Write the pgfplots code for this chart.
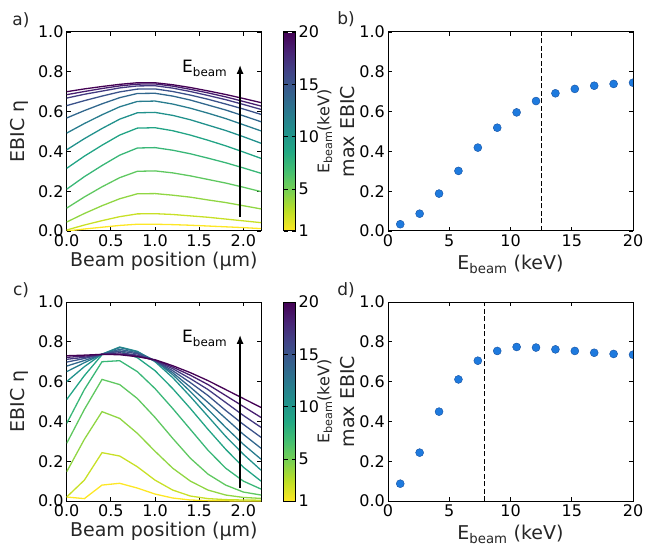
\documentclass[border=0pt]{standalone}
\usepackage{fontspec}
\setmainfont{DejaVu Sans}
\usepackage{pgfplots}
\pgfplotsset{compat=1.18}
\usetikzlibrary{arrows.meta}
\definecolor{dotblue}{RGB}{30,122,222}
\definecolor{dotedge}{RGB}{20,80,160}
\pgfplotsset{
  colormap={rviridis}{rgb255=(253,231,37) rgb255=(189,223,38) rgb255=(122,209,81) rgb255=(68,191,112) rgb255=(34,168,132) rgb255=(33,145,140) rgb255=(42,120,142) rgb255=(53,95,141) rgb255=(65,68,135) rgb255=(72,36,117) rgb255=(68,1,84)},
  /pgf/number format/assume math mode=true,
  panel/.style={
    scale only axis,
    anchor=south west,
    axis line style={line width=1pt},
    tick align=inside,
    major tick length=4pt,
    tick style={black, line width=0.8pt},
    ticklabel style={font=\fontsize{16}{19}\selectfont},
    yticklabel style={inner sep=3pt, /pgf/number format/fixed, /pgf/number format/fixed zerofill, /pgf/number format/precision=1},
    label style={font=\fontsize{19}{23}\selectfont, text=black!85},
    ymin=0, ymax=1,
    ytick={0,0.2,0.4,0.6,0.8,1.0},
    clip marker paths=true,
  },
  profile/.style={
    panel,
    width=194.3pt, height=199pt,
    xmin=0, xmax=2.2, xtick={0,0.5,1,1.5,2},
    xticklabel style={/pgf/number format/fixed, /pgf/number format/fixed zerofill, /pgf/number format/precision=1},
    xlabel={Beam position (µm)}, ylabel={EBIC η},
    xlabel style={at={(axis description cs:0.5,-0.176)}, anchor=base},
    ylabel style={at={(axis description cs:-0.215,0.5)}, anchor=base},
    colormap name=rviridis,
    colorbar, point meta min=1, point meta max=20,
    colorbar style={
      scale only axis,
      at={(parent axis.north east)}, anchor=north west, xshift=14pt,
      width=12pt,
      ytick={1,5,10,15,20},
      axis line style={line width=1pt},
      tick align=inside, major tick length=4pt,
      tick style={black, line width=0.8pt},
      yticklabel style={font=\fontsize{16}{19}\selectfont, inner sep=3pt},
      ylabel={E\textsubscript{beam}(keV)},
      ylabel style={font=\fontsize{16}{19}\selectfont, text=black!85, at={(axis description cs:3.83,0.5)}, anchor=base},
    },
    every axis plot/.append style={line width=1.3pt},
  },
  maxplot/.style={
    panel,
    width=245pt, height=199pt,
    xmin=0, xmax=20, xtick={0,5,10,15,20},
    xlabel={E\textsubscript{beam} (keV)}, ylabel={max EBIC},
    xlabel style={at={(axis description cs:0.5,-0.191)}, anchor=base},
    ylabel style={at={(axis description cs:-0.135,0.5)}, anchor=base},
  },
  dots/.style={only marks, mark=*, mark size=4pt, mark options={fill=dotblue, draw=dotedge, line width=0.4pt}},
}
\begin{document}
\begin{tikzpicture}
\useasboundingbox (0,0) rectangle (652pt,557pt);

% ---------------- a) ----------------
\begin{axis}[profile, at={(66.7pt,326pt)}]
\addplot[color of colormap=0] coordinates {(0,0) (0.2,0.010) (0.4,0.019) (0.6,0.028) (0.8,0.034) (1.0,0.034) (1.2,0.032) (1.4,0.029) (1.6,0.025) (1.8,0.021) (2.0,0.017) (2.2,0.012)};
\addplot[color of colormap=83] coordinates {(0,0.005) (0.2,0.030) (0.4,0.052) (0.6,0.072) (0.8,0.086) (1.0,0.087) (1.2,0.083) (1.4,0.076) (1.6,0.069) (1.8,0.060) (2.0,0.051) (2.2,0.042)};
\addplot[color of colormap=167] coordinates {(0,0.045) (0.2,0.088) (0.4,0.127) (0.6,0.162) (0.8,0.187) (1.0,0.188) (1.2,0.180) (1.4,0.170) (1.6,0.156) (1.8,0.143) (2.0,0.127) (2.2,0.111)};
\addplot[color of colormap=250] coordinates {(0,0.115) (0.2,0.171) (0.4,0.222) (0.6,0.268) (0.8,0.300) (1.0,0.302) (1.2,0.292) (1.4,0.277) (1.6,0.259) (1.8,0.241) (2.0,0.220) (2.2,0.198)};
\addplot[color of colormap=333] coordinates {(0,0.210) (0.2,0.273) (0.4,0.329) (0.6,0.381) (0.8,0.417) (1.0,0.419) (1.2,0.406) (1.4,0.388) (1.6,0.366) (1.8,0.343) (2.0,0.317) (2.2,0.290)};
\addplot[color of colormap=417] coordinates {(0,0.315) (0.2,0.376) (0.4,0.431) (0.6,0.482) (0.8,0.517) (1.0,0.519) (1.2,0.504) (1.4,0.482) (1.6,0.456) (1.8,0.428) (2.0,0.397) (2.2,0.365)};
\addplot[color of colormap=500] coordinates {(0,0.408) (0.2,0.464) (0.4,0.515) (0.6,0.562) (0.8,0.594) (1.0,0.596) (1.2,0.581) (1.4,0.559) (1.6,0.532) (1.8,0.505) (2.0,0.474) (2.2,0.441)};
\addplot[color of colormap=583] coordinates {(0,0.492) (0.2,0.540) (0.4,0.584) (0.6,0.624) (0.8,0.651) (1.0,0.653) (1.2,0.638) (1.4,0.617) (1.6,0.592) (1.8,0.565) (2.0,0.534) (2.2,0.503)};
\addplot[color of colormap=667] coordinates {(0,0.568) (0.2,0.605) (0.4,0.639) (0.6,0.670) (0.8,0.691) (1.0,0.692) (1.2,0.678) (1.4,0.658) (1.6,0.633) (1.8,0.608) (2.0,0.579) (2.2,0.549)};
\addplot[color of colormap=750] coordinates {(0,0.630) (0.2,0.655) (0.4,0.678) (0.6,0.699) (0.8,0.713) (1.0,0.714) (1.2,0.701) (1.4,0.683) (1.6,0.662) (1.8,0.638) (2.0,0.613) (2.2,0.586)};
\addplot[color of colormap=833] coordinates {(0,0.668) (0.2,0.687) (0.4,0.703) (0.6,0.719) (0.8,0.729) (1.0,0.730) (1.2,0.718) (1.4,0.701) (1.6,0.681) (1.8,0.660) (2.0,0.636) (2.2,0.611)};
\addplot[color of colormap=917] coordinates {(0,0.685) (0.2,0.701) (0.4,0.716) (0.6,0.729) (0.8,0.738) (1.0,0.739) (1.2,0.728) (1.4,0.712) (1.6,0.694) (1.8,0.674) (2.0,0.651) (2.2,0.628)};
\addplot[color of colormap=1000] coordinates {(0,0.700) (0.2,0.714) (0.4,0.726) (0.6,0.737) (0.8,0.745) (1.0,0.745) (1.2,0.735) (1.4,0.721) (1.6,0.704) (1.8,0.686) (2.0,0.666) (2.2,0.645)};
\draw[line width=1.6pt, -{Latex[length=9pt,width=7pt]}] (axis cs:1.963,0.07) -- (axis cs:1.963,0.835);
\node[anchor=base west, inner sep=0pt, font=\fontsize{17}{20}\selectfont] at (axis cs:1.306,0.794) {E\textsubscript{beam}};
\end{axis}

% ---------------- b) ----------------
\begin{axis}[maxplot, at={(388pt,326pt)}]
\addplot[dots] coordinates {(1,0.034) (2.583,0.087) (4.167,0.188) (5.75,0.302) (7.333,0.419) (8.917,0.519) (10.5,0.596) (12.083,0.653) (13.667,0.692) (15.25,0.714) (16.833,0.730) (18.417,0.739) (20,0.745)};
\addplot[black, line width=1pt, dash pattern=on 5pt off 2.5pt] coordinates {(12.5,0) (12.5,1)};
\end{axis}

% ---------------- c) ----------------
\begin{axis}[profile, at={(66.7pt,56pt)}]
\addplot[color of colormap=0] coordinates {(0,0.020) (0.2,0.012) (0.4,0.080) (0.6,0.089) (0.8,0.065) (1.0,0.035) (1.2,0.015) (1.4,0.005) (1.6,0.002) (1.8,0.001) (2.0,0) (2.2,0)};
\addplot[color of colormap=83] coordinates {(0,0.020) (0.2,0.105) (0.4,0.243) (0.6,0.226) (0.8,0.172) (1.0,0.105) (1.2,0.055) (1.4,0.025) (1.6,0.012) (1.8,0.007) (2.0,0.005) (2.2,0.004)};
\addplot[color of colormap=167] coordinates {(0,0.147) (0.2,0.310) (0.4,0.449) (0.6,0.415) (0.8,0.340) (1.0,0.250) (1.2,0.165) (1.4,0.100) (1.6,0.055) (1.8,0.030) (2.0,0.018) (2.2,0.013)};
\addplot[color of colormap=250] coordinates {(0,0.290) (0.2,0.460) (0.4,0.611) (0.6,0.585) (0.8,0.515) (1.0,0.420) (1.2,0.315) (1.4,0.215) (1.6,0.135) (1.8,0.080) (2.0,0.045) (2.2,0.030)};
\addplot[color of colormap=333] coordinates {(0,0.390) (0.2,0.560) (0.4,0.700) (0.6,0.705) (0.8,0.650) (1.0,0.565) (1.2,0.465) (1.4,0.360) (1.6,0.255) (1.8,0.165) (2.0,0.100) (2.2,0.060)};
\addplot[color of colormap=417] coordinates {(0,0.510) (0.2,0.630) (0.4,0.735) (0.6,0.754) (0.8,0.720) (1.0,0.655) (1.2,0.565) (1.4,0.465) (1.6,0.360) (1.8,0.260) (2.0,0.170) (2.2,0.100)};
\addplot[color of colormap=500] coordinates {(0,0.600) (0.2,0.675) (0.4,0.738) (0.6,0.774) (0.8,0.752) (1.0,0.700) (1.2,0.620) (1.4,0.525) (1.6,0.425) (1.8,0.325) (2.0,0.235) (2.2,0.155)};
\addplot[color of colormap=583] coordinates {(0,0.650) (0.2,0.695) (0.4,0.737) (0.6,0.771) (0.8,0.750) (1.0,0.705) (1.2,0.635) (1.4,0.550) (1.6,0.460) (1.8,0.370) (2.0,0.285) (2.2,0.210)};
\addplot[color of colormap=667] coordinates {(0,0.678) (0.2,0.706) (0.4,0.737) (0.6,0.762) (0.8,0.745) (1.0,0.705) (1.2,0.645) (1.4,0.572) (1.6,0.495) (1.8,0.415) (2.0,0.335) (2.2,0.265)};
\addplot[color of colormap=750] coordinates {(0,0.698) (0.2,0.716) (0.4,0.737) (0.6,0.754) (0.8,0.740) (1.0,0.705) (1.2,0.655) (1.4,0.595) (1.6,0.530) (1.8,0.455) (2.0,0.385) (2.2,0.320)};
\addplot[color of colormap=833] coordinates {(0,0.712) (0.2,0.722) (0.4,0.737) (0.6,0.745) (0.8,0.733) (1.0,0.705) (1.2,0.665) (1.4,0.615) (1.6,0.560) (1.8,0.495) (2.0,0.430) (2.2,0.370)};
\addplot[color of colormap=917] coordinates {(0,0.722) (0.2,0.728) (0.4,0.737) (0.6,0.739) (0.8,0.728) (1.0,0.708) (1.2,0.673) (1.4,0.632) (1.6,0.585) (1.8,0.530) (2.0,0.475) (2.2,0.420)};
\addplot[color of colormap=1000] coordinates {(0,0.730) (0.2,0.733) (0.4,0.737) (0.6,0.735) (0.8,0.725) (1.0,0.710) (1.2,0.680) (1.4,0.645) (1.6,0.605) (1.8,0.560) (2.0,0.515) (2.2,0.470)};
\draw[line width=1.6pt, -{Latex[length=9pt,width=7pt]}] (axis cs:1.963,0.065) -- (axis cs:1.963,0.835);
\node[anchor=base west, inner sep=0pt, font=\fontsize{17}{20}\selectfont] at (axis cs:1.306,0.794) {E\textsubscript{beam}};
\end{axis}

% ---------------- d) ----------------
\begin{axis}[maxplot, at={(388pt,56pt)}]
\addplot[dots] coordinates {(1,0.087) (2.583,0.243) (4.167,0.449) (5.75,0.611) (7.333,0.705) (8.917,0.754) (10.5,0.774) (12.083,0.771) (13.667,0.762) (15.25,0.754) (16.833,0.745) (18.417,0.739) (20,0.735)};
\addplot[black, line width=1pt, dash pattern=on 5pt off 2.5pt] coordinates {(7.9,0) (7.9,1)};
\end{axis}

% panel labels
\node[font=\fontsize{17}{20}\selectfont, text=black!85] at (21pt,537pt) {a)};
\node[font=\fontsize{17}{20}\selectfont, text=black!85] at (346pt,538pt) {b)};
\node[font=\fontsize{17}{20}\selectfont, text=black!85] at (21pt,267pt) {c)};
\node[font=\fontsize{17}{20}\selectfont, text=black!85] at (346pt,267pt) {d)};
\end{tikzpicture}
\end{document}
